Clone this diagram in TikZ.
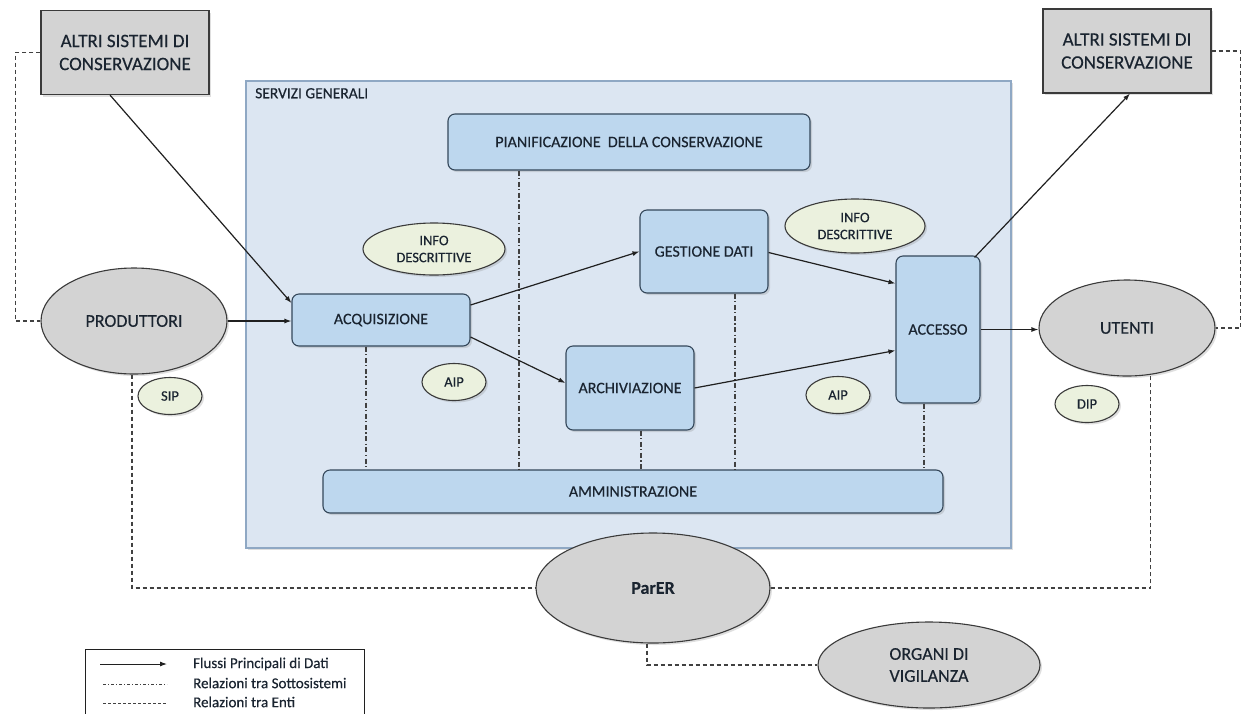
\documentclass[tikz,border=0pt]{standalone}
\usepackage{fontspec}
\setmainfont{Carlito}
\newfontfamily\mfont{Carlito}[FakeBold=0.35]
\usetikzlibrary{shapes.geometric,arrows.meta,shadows,calc}
\definecolor{boxblue}{HTML}{BDD7EE}
\definecolor{boxedge}{HTML}{34475A}
\definecolor{outerfill}{HTML}{DCE6F2}
\definecolor{outeredge}{HTML}{8FA8C4}
\definecolor{grayfill}{HTML}{D3D3D3}
\definecolor{grayedge}{HTML}{3A3A3A}
\definecolor{greenfill}{HTML}{EBF1DE}
\definecolor{txt}{HTML}{1A2430}
\definecolor{linecol}{HTML}{202020}
\newcommand{\fs}[2]{\mfont\fontsize{#1}{#2}\selectfont}
\tikzset{
  shade/.style={drop shadow={opacity=0.25,shadow xshift=2pt,shadow yshift=-2pt}},
  subbox/.style={draw=boxedge,line width=1.1pt,fill=boxblue,rounded corners=7pt,
     inner sep=0pt,align=center,text=txt,font=\fs{16}{19},shade},
  graybox/.style={draw=grayedge,line width=1.1pt,fill=grayfill,inner sep=0pt,
     align=center,text=txt,font=\fs{19}{23},shade},
  grayell/.style={ellipse,draw=grayedge,line width=1.1pt,fill=grayfill,inner sep=0pt,
     align=center,text=txt,font=\fs{18}{22},shade},
  greenell/.style={ellipse,draw=grayedge,line width=1.1pt,fill=greenfill,inner sep=0pt,
     align=center,text=txt,font=\fs{14.5}{17},shade},
  flow/.style={draw=linecol,line width=1.2pt,-{Latex[length=7pt,width=5pt]}},
  enti/.style={draw=linecol!85,line width=1.2pt,dash pattern=on 4pt off 3pt},
  sotto/.style={draw=linecol!85,line width=1.1pt,dash pattern=on 5pt off 2.5pt on 1.2pt off 2.5pt},
}
\begin{document}
\begin{tikzpicture}[x=1pt,y=-1pt]
\useasboundingbox (0,0) rectangle (1242,713);
\clip (0,0) rectangle (1242,713);
\fill[white] (0,0) rectangle (1242,713);

% outer services box
\node[draw=outeredge,line width=1.5pt,fill=outerfill,minimum width=765pt,minimum height=467pt,inner sep=0pt,shade] (serv) at (628.5,314.5) {};
\node[anchor=north west,text=txt,font=\fs{15.5}{18},inner sep=0pt] (servlab) at (255,88) {SERVIZI GENERALI};

% gray boxes
\node[graybox,minimum width=168pt,minimum height=84pt] (altriL) at (125,52.5) {ALTRI SISTEMI DI\\CONSERVAZIONE};
\node[graybox,minimum width=168pt,minimum height=84pt] (altriR) at (1127,51) {ALTRI SISTEMI DI\\CONSERVAZIONE};

% subsystem boxes
\node[subbox,minimum width=362pt,minimum height=56pt] (pian) at (629,142) {PIANIFICAZIONE\ \ DELLA CONSERVAZIONE};
\node[subbox,minimum width=128pt,minimum height=83pt] (gest) at (704,251.5) {GESTIONE DATI};
\node[subbox,minimum width=178pt,minimum height=52pt] (acq) at (381,320) {ACQUISIZIONE};
\node[subbox,minimum width=128pt,minimum height=84pt] (arch) at (630,388) {ARCHIVIAZIONE};
\node[subbox,minimum width=84pt,minimum height=147pt] (acc) at (938,329.5) {ACCESSO};
\node[subbox,minimum width=620pt,minimum height=43pt] (amm) at (633,491.5) {AMMINISTRAZIONE};

% green ellipses
\node[greenell,minimum width=142pt,minimum height=52pt] (infoL) at (434,249) {INFO\\DESCRITTIVE};
\node[greenell,minimum width=140pt,minimum height=54pt] (infoR) at (855,226) {INFO\\DESCRITTIVE};
\node[greenell,minimum width=64pt,minimum height=37pt] (aipL) at (454,382) {AIP};
\node[greenell,minimum width=64pt,minimum height=37pt] (aipR) at (838,395) {AIP};
\node[greenell,minimum width=64pt,minimum height=37pt] (sip) at (170,396) {SIP};
\node[greenell,minimum width=64pt,minimum height=37pt] (dip) at (1087,404) {DIP};

% gray ellipses
\node[grayell,minimum width=186pt,minimum height=106pt] (prod) at (134,321) {PRODUTTORI};
\node[grayell,minimum width=176pt,minimum height=96pt] (ut) at (1127,328) {UTENTI};
\node[grayell,minimum width=234pt,minimum height=110pt,font=\bfseries\fs{18}{22}] (parer) at (653,588) {ParER};
\node[grayell,minimum width=222pt,minimum height=86pt] (org) at (929,665) {ORGANI DI\\VIGILANZA};

% relations between entities (dashed)
\draw[enti] (altriL.west) -- ++(-25,0) |- (prod.west);
\draw[enti] (altriR.east) -- ++(29,0) |- (ut.east);
\draw[enti] ([xshift=-2pt]prod.south) |- (parer.west);
\draw[enti] (parer.east) -| (ut.-63);
\draw[enti] ([xshift=-6pt]parer.south) |- (org.west);

% relations between subsystems (dash-dot)
\draw[sotto] ([xshift=-15pt]acq.south) -- ([xshift=-15pt]acq.south |- amm.north);
\draw[sotto] ([xshift=-110pt]pian.south) -- ([xshift=-110pt]pian.south |- amm.north);
\draw[sotto] ([xshift=11pt]arch.south) -- ([xshift=11pt]arch.south |- amm.north);
\draw[sotto] ([xshift=31pt]gest.south) -- ([xshift=31pt]gest.south |- amm.north);
\draw[sotto] ([xshift=-14pt]acc.south) -- ([xshift=-14pt]acc.south |- amm.north);

% main data flows
\draw[flow] ([xshift=-15pt]altriL.south) -- ([yshift=17pt]acq.west);
\draw[flow] (prod.east) -- (prod.east -| acq.west);
\draw[flow] ([yshift=15pt]acq.east) -- ([yshift=0pt]gest.west);
\draw[flow] ([yshift=-17pt]acq.east) -- ([yshift=5pt]arch.west);
\draw[flow] ([yshift=-1pt]gest.east) -- ([yshift=46pt]acc.west);
\draw[flow] ([yshift=0pt]arch.east) -- ([yshift=-21pt]acc.west);
\draw[flow] (acc.east) -- (acc.east -| ut.west);
\draw[flow] ([xshift=-6pt,yshift=-2pt]acc.north east) -- ([xshift=3pt]altriR.south);

% legend
\node[draw=linecol,line width=1.1pt,minimum width=279pt,minimum height=80pt,inner sep=0pt,anchor=north west] (leg) at (85,649) {};
\coordinate (l1a) at (100,664); \coordinate (l1b) at (167,664);
\coordinate (l2a) at (103,684); \coordinate (l2b) at (167,684);
\coordinate (l3a) at (103,703); \coordinate (l3b) at (167,703);
\draw[flow,line width=1pt] (l1a) -- (l1b);
\draw[sotto,line width=0.8pt,dash pattern=on 3pt off 2pt on 1pt off 2pt] (l2a) -- (l2b);
\draw[enti,line width=0.8pt,dash pattern=on 3pt off 2pt] (l3a) -- (l3b);
\node[anchor=west,inner sep=0pt,text=txt,font=\fs{15}{18}] (t1) at (193,664) {Flussi Principali di Dati};
\node[anchor=west,inner sep=0pt,text=txt,font=\fs{15}{18}] (t2) at (193,683) {Relazioni tra Sottosistemi};
\node[anchor=west,inner sep=0pt,text=txt,font=\fs{15}{18}] (t3) at (193,702) {Relazioni tra Enti};
\end{tikzpicture}
\end{document}
